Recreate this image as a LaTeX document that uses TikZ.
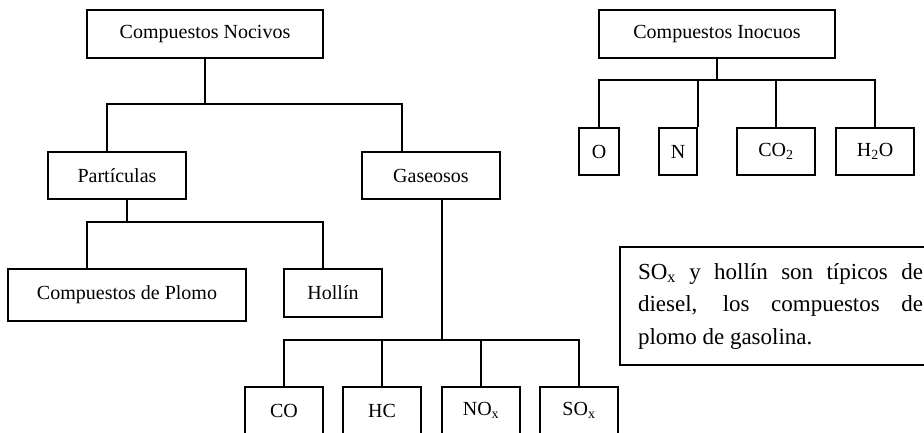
\documentclass[tikz,border=0pt]{standalone}
\usepackage{fontspec}
\setmainfont{Liberation Serif}
\usetikzlibrary{positioning}

\begin{document}
\begin{tikzpicture}[x=1pt, y=-1pt, line width=2pt,
  caja/.style={draw, inner sep=0pt, minimum height=47pt, font=\fontsize{20}{24}\selectfont},
  nota/.style={draw, anchor=north west, text width=285pt, inner xsep=18pt, inner ysep=0pt,
    minimum height=118pt, align=justify, font=\fontsize{23}{32.5}\selectfont}]
  \useasboundingbox (0,0) rectangle (924,432);
  \clip (0,0) rectangle (924,432);

  \node[caja, minimum width=236pt, minimum height=48pt] (nocivos) at (205,34) {Compuestos Nocivos};
  \node[caja, minimum width=138pt] (part) at (117,175.5) {Partículas};
  \node[caja, minimum width=138pt] (gas) at (431,175.5) {Gaseosos};
  \node[caja, minimum width=238pt, minimum height=52pt] (plomo) at (127,295) {Compuestos de Plomo};
  \node[caja, minimum width=98pt, minimum height=48pt] (hollin) at (333,293) {Hollín};
  \node[caja, minimum width=78pt] (co) at (284,410.5) {CO};
  \node[caja, minimum width=78pt] (hc) at (382,410.5) {HC};
  \node[caja, minimum width=78pt] (nox) at (481,410.5) {NO\textsubscript{x}};
  \node[caja, minimum width=78pt] (sox) at (579,410.5) {SO\textsubscript{x}};

  \node[caja, minimum width=236pt, minimum height=48pt] (inocuos) at (717,34) {Compuestos Inocuos};
  \node[caja, minimum width=40pt] (o) at (599,151.5) {O};
  \node[caja, minimum width=38pt] (n) at (678,151.5) {N};
  \node[caja, minimum width=78pt] (co2) at (776,151.5) {CO\textsubscript{2}};
  \node[caja, minimum width=78pt] (h2o) at (875,151.5) {H\textsubscript{2}O};

  \node[nota] (nota) at (619,246) {SO\textsubscript{x} y hollín son típicos de\linebreak diesel, los compuestos de\linebreak plomo de gasolina.};

  \coordinate (jn) at (205,104);
  \coordinate (jp) at (127,222);
  \coordinate (jg) at (442,340);
  \coordinate (ji) at (717,80);

  \draw (nocivos.south) -- (jn);
  \draw ([xshift=-10pt]part.north) |- (jn) -| ([xshift=-29pt]gas.north);
  \draw ([xshift=10pt]part.south) -- (jp);
  \draw ([xshift=-40pt]plomo.north) |- (jp) -| ([xshift=-10pt]hollin.north);
  \draw ([xshift=11pt]gas.south) -- (jg);
  \draw (co.north) |- (jg) -| (sox.north);
  \draw (hc.north) -- (hc.north |- jg);
  \draw (nox.north) -- (nox.north |- jg);

  \draw (inocuos.south) -- (ji);
  \draw (o.north) |- (ji) -| (h2o.north);
  \draw (n.north east) -- (n.north east |- ji);
  \draw (co2.north) -- (co2.north |- ji);
\end{tikzpicture}
\end{document}
